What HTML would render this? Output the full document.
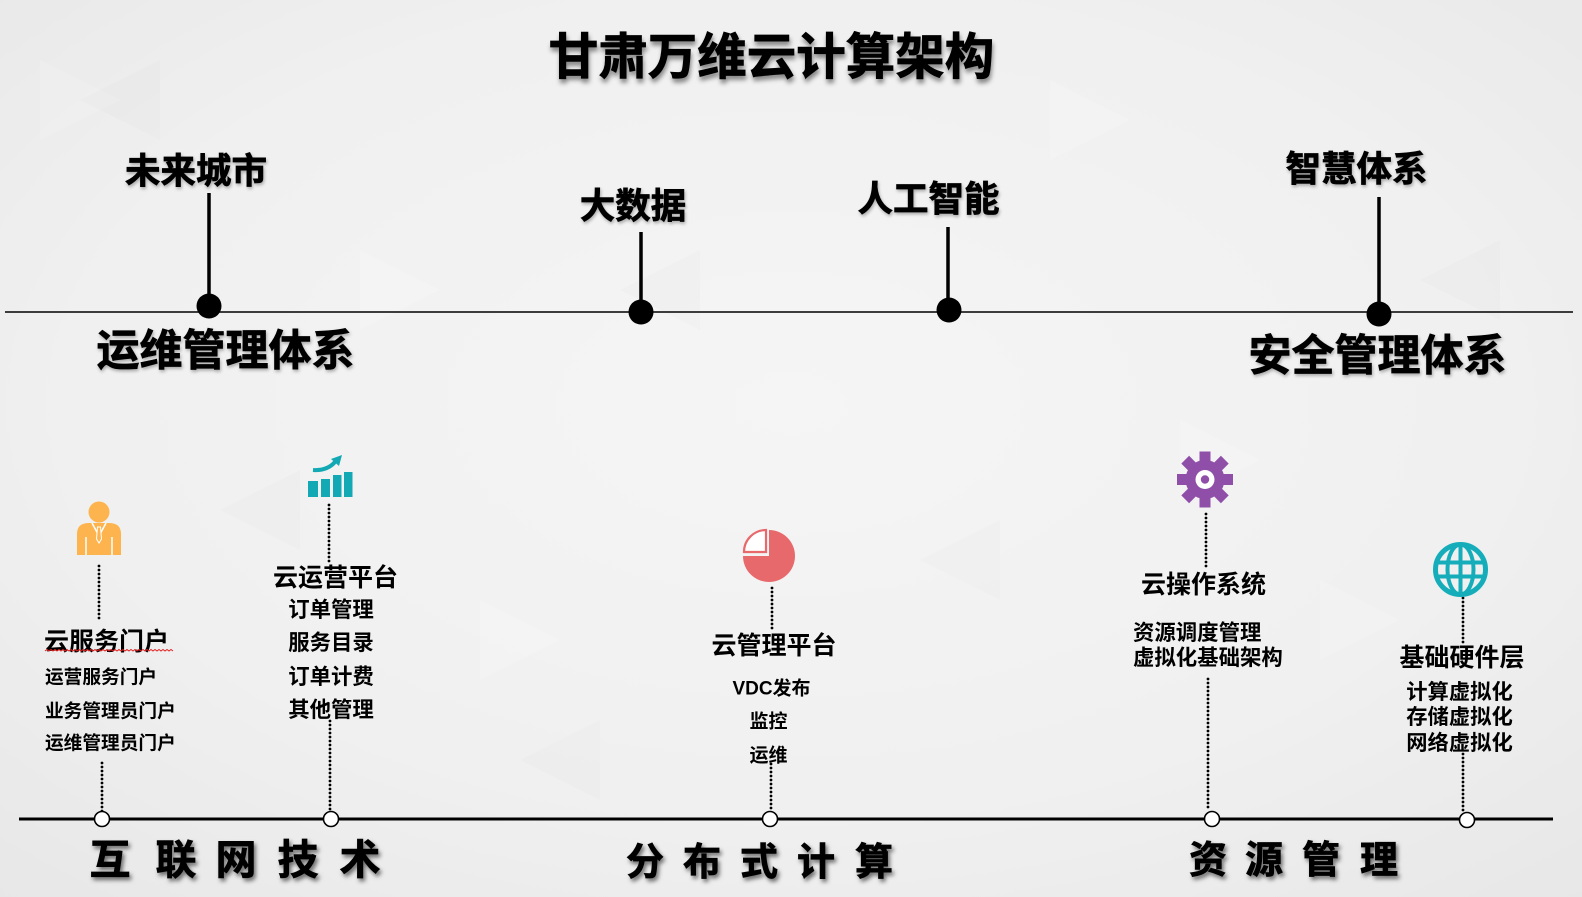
<!DOCTYPE html>
<html>
<head>
<meta charset="utf-8">
<style>
  html,body{margin:0;padding:0;}
  body{width:1582px;height:897px;overflow:hidden;background:#efefef;}
  svg{display:block;}
  text{font-family:"Liberation Sans","Noto Sans CJK SC",sans-serif;font-weight:700;fill:#000;dominant-baseline:central;}
  .m{text-anchor:middle;}
  .s{text-anchor:start;}
  .heavy{stroke:#000;stroke-width:0.7px;}
</style>
</head>
<body>
<svg width="1582" height="897" viewBox="0 0 1582 897" xmlns="http://www.w3.org/2000/svg">
  <defs>
    <radialGradient id="bg" cx="50%" cy="45%" r="75%">
      <stop offset="0" stop-color="#f5f5f5"/>
      <stop offset="0.6" stop-color="#f0f0f0"/>
      <stop offset="1" stop-color="#e7e7e7"/>
    </radialGradient>
    <filter id="tshadow" x="-10%" y="-30%" width="120%" height="170%">
      <feDropShadow dx="1" dy="4" stdDeviation="2.5" flood-color="#000" flood-opacity="0.45"/>
    </filter>
    <filter id="bshadow" x="-20%" y="-30%" width="140%" height="170%">
      <feDropShadow dx="2" dy="3" stdDeviation="2" flood-color="#000" flood-opacity="0.55"/>
    </filter>
    <filter id="lshadow" x="-10%" y="-30%" width="120%" height="170%">
      <feDropShadow dx="1" dy="2" stdDeviation="1.5" flood-color="#000" flood-opacity="0.3"/>
    </filter>
  </defs>

  <!-- background -->
  <rect x="0" y="0" width="1582" height="897" fill="url(#bg)"/>
  <g fill="#ffffff" opacity="0.15">
    <polygon points="40,60 120,100 40,140"/>
    <polygon points="360,250 440,290 360,330"/>
    <polygon points="1050,80 1130,120 1050,160"/>
    <polygon points="1180,420 1260,460 1180,500"/>
    <polygon points="480,600 560,640 480,680"/>
    <polygon points="1320,580 1400,620 1320,660"/>
  </g>
  <g fill="#000" opacity="0.01">
    <polygon points="160,60 80,100 160,140"/>
    <polygon points="700,250 620,290 700,330"/>
    <polygon points="1500,240 1420,280 1500,320"/>
    <polygon points="300,470 220,510 300,550"/>
    <polygon points="1000,520 920,560 1000,600"/>
    <polygon points="600,720 520,760 600,800"/>
  </g>

  <!-- Title -->
  <text class="m" x="771.5" y="57.5" font-size="49.5" filter="url(#tshadow)" style="stroke:#000;stroke-width:0.8px">甘肃万维云计算架构</text>

  <!-- Top timeline -->
  <line x1="5" y1="312" x2="1573" y2="312" stroke="#000" stroke-width="1.5"/>
  <line x1="209" y1="193" x2="209" y2="306" stroke="#000" stroke-width="3.5"/>
  <line x1="641" y1="232" x2="641" y2="312" stroke="#000" stroke-width="3.5"/>
  <line x1="948" y1="227" x2="948" y2="310" stroke="#000" stroke-width="3.5"/>
  <line x1="1379" y1="197" x2="1379" y2="314" stroke="#000" stroke-width="3.5"/>
  <circle cx="209" cy="306" r="12.5" fill="#000"/>
  <circle cx="641" cy="312" r="12.5" fill="#000"/>
  <circle cx="949" cy="310" r="12.5" fill="#000"/>
  <circle cx="1379" cy="314" r="12.5" fill="#000"/>

  <g filter="url(#lshadow)">
    <text class="m heavy" x="196" y="171" font-size="35.5">未来城市</text>
    <text class="m heavy" x="633" y="206" font-size="35.5">大数据</text>
    <text class="m heavy" x="928.5" y="199" font-size="35.5">人工智能</text>
    <text class="m heavy" x="1356.5" y="169" font-size="35.5">智慧体系</text>
    <text class="m heavy" x="225.5" y="351.5" font-size="43">运维管理体系</text>
    <text class="m heavy" x="1377.5" y="356.5" font-size="43">安全管理体系</text>
  </g>

  <!-- Bottom timeline -->
  <line x1="19" y1="819" x2="1553" y2="819" stroke="#000" stroke-width="3"/>

  <!-- dotted connectors -->
  <g stroke="#000" stroke-width="2.8" stroke-dasharray="0 4" stroke-linecap="round">
    <line x1="99" y1="566" x2="99" y2="622"/>
    <line x1="102" y1="763" x2="102" y2="812"/>
    <line x1="329" y1="505" x2="329" y2="562"/>
    <line x1="330" y1="721" x2="330" y2="812"/>
    <line x1="772" y1="588" x2="772" y2="630"/>
    <line x1="771" y1="764" x2="771" y2="812"/>
    <line x1="1206" y1="514" x2="1206" y2="570"/>
    <line x1="1208" y1="679" x2="1208" y2="811"/>
    <line x1="1463" y1="598" x2="1463" y2="643"/>
    <line x1="1463" y1="754" x2="1463" y2="812"/>
  </g>

  <!-- white circles on bottom line -->
  <g fill="#fff" stroke="#000" stroke-width="1.6">
    <circle cx="102" cy="819" r="7.5"/>
    <circle cx="331" cy="819" r="7.5"/>
    <circle cx="770" cy="819" r="7.5"/>
    <circle cx="1212" cy="819" r="7.5"/>
    <circle cx="1467" cy="820" r="7.5"/>
  </g>

  <!-- Person icon -->
  <g>
    <circle cx="99" cy="512" r="10.5" fill="#FDB44E"/>
    <path d="M77,555 L77,534 Q77,523 89,523 L109,523 Q121,523 121,534 L121,555 Z" fill="#FDB44E"/>
    <line x1="86" y1="537" x2="86" y2="555" stroke="#fff" stroke-width="1.5"/>
    <line x1="112" y1="537" x2="112" y2="555" stroke="#fff" stroke-width="1.5"/>
    <polyline points="92,523 99,536 106,523" fill="none" stroke="#fff" stroke-width="1.5"/>
    <polygon points="97.5,527 100.5,527 101.5,539 99,543 96.5,539" fill="#FDB44E" stroke="#fff" stroke-width="1"/>
  </g>

  <!-- Chart icon -->
  <g fill="#12A9B5">
    <rect x="308" y="481" width="10" height="16"/>
    <rect x="321" y="479" width="9" height="18"/>
    <rect x="333" y="475" width="8.5" height="22"/>
    <rect x="344" y="472" width="8.5" height="25"/>
    <path d="M313,470 Q327,471 335,462" fill="none" stroke="#12A9B5" stroke-width="4"/>
    <polygon points="331,459 342,455 339,466"/>
  </g>

  <!-- Pie icon -->
  <g>
    <path d="M769,556 L769,530 A26,26 0 1,1 743,556 Z" fill="#E8696C"/>
    <path d="M766,552 L744,552 A22,22 0 0,1 766,530 Z" fill="#fff" stroke="#E8696C" stroke-width="2.2"/>
  </g>

  <!-- Gear icon -->
  <g transform="translate(1205,479.5)" fill="#8F4FA8">
    <circle r="19.5"/>
    <rect x="-5.5" y="-28" width="11" height="14" transform="rotate(0)"/>
    <rect x="-5.5" y="-28" width="11" height="14" transform="rotate(45)"/>
    <rect x="-5.5" y="-28" width="11" height="14" transform="rotate(90)"/>
    <rect x="-5.5" y="-28" width="11" height="14" transform="rotate(135)"/>
    <rect x="-5.5" y="-28" width="11" height="14" transform="rotate(180)"/>
    <rect x="-5.5" y="-28" width="11" height="14" transform="rotate(225)"/>
    <rect x="-5.5" y="-28" width="11" height="14" transform="rotate(270)"/>
    <rect x="-5.5" y="-28" width="11" height="14" transform="rotate(315)"/>
    <circle r="9.5" fill="#fff"/>
    <circle r="4.2" fill="#8F4FA8"/>
  </g>

  <!-- Globe icon -->
  <g transform="translate(1460.5,569.5)" fill="none" stroke="#16ADBB">
    <circle r="25" stroke-width="5"/>
    <ellipse rx="13" ry="25" stroke-width="4"/>
    <line x1="0" y1="-25" x2="0" y2="25" stroke-width="4"/>
    <line x1="-24" y1="-7" x2="24" y2="-7" stroke-width="4"/>
    <line x1="-24" y1="7" x2="24" y2="7" stroke-width="4"/>
  </g>

  <!-- Section texts -->
  <text class="s" x="44" y="642" font-size="25">云服务门户</text>
  <path d="M45,651 l2,-1.5 l2,1.5 l2,-1.5 l2,1.5 l2,-1.5 l2,1.5 l2,-1.5 l2,1.5 l2,-1.5 l2,1.5 l2,-1.5 l2,1.5 l2,-1.5 l2,1.5 l2,-1.5 l2,1.5 l2,-1.5 l2,1.5 l2,-1.5 l2,1.5 l2,-1.5 l2,1.5 l2,-1.5 l2,1.5 l2,-1.5 l2,1.5 l2,-1.5 l2,1.5 l2,-1.5 l2,1.5 l2,-1.5 l2,1.5 l2,-1.5 l2,1.5 l2,-1.5 l2,1.5 l2,-1.5 l2,1.5 l2,-1.5 l2,1.5 l2,-1.5 l2,1.5 l2,-1.5 l2,1.5 l2,-1.5 l2,1.5 l2,-1.5 l2,1.5 l2,-1.5 l2,1.5 l2,-1.5 l2,1.5 l2,-1.5 l2,1.5 l2,-1.5 l2,1.5 l2,-1.5 l2,1.5 l2,-1.5 l2,1.5 l2,-1.5 l2,1.5 l2,-1.5 l2,1.5" fill="none" stroke="#e02020" stroke-width="1"/>
  <text class="s" x="45" y="677" font-size="18.7">运营服务门户</text>
  <text class="s" x="45" y="711" font-size="18.7">业务管理员门户</text>
  <text class="s" x="45" y="743" font-size="18.7">运维管理员门户</text>

  <text class="m" x="335.5" y="578" font-size="25">云运营平台</text>
  <text class="m" x="331" y="610" font-size="21.4">订单管理</text>
  <text class="m" x="331" y="643" font-size="21.4">服务目录</text>
  <text class="m" x="331" y="677" font-size="21.4">订单计费</text>
  <text class="m" x="331" y="710" font-size="21.4">其他管理</text>

  <text class="m" x="774" y="646" font-size="25">云管理平台</text>
  <text class="m" x="771.5" y="689" font-size="19">VDC发布</text>
  <text class="m" x="768.5" y="722" font-size="19">监控</text>
  <text class="m" x="768.5" y="756" font-size="19">运维</text>

  <text class="m" x="1203.5" y="585" font-size="25">云操作系统</text>
  <text class="s" x="1133" y="633" font-size="21.4">资源调度管理</text>
  <text class="s" x="1133" y="658" font-size="21.4">虚拟化基础架构</text>

  <text class="m" x="1462" y="658" font-size="25">基础硬件层</text>
  <text class="m" x="1459.5" y="692" font-size="21.3">计算虚拟化</text>
  <text class="m" x="1459.5" y="717" font-size="21.3">存储虚拟化</text>
  <text class="m" x="1459.5" y="743" font-size="21.3">网络虚拟化</text>

  <!-- Bottom headings -->
  <g filter="url(#bshadow)">
    <text class="m heavy" x="110" y="860" font-size="41">互</text>
    <text class="m heavy" x="176" y="860" font-size="41">联</text>
    <text class="m heavy" x="236" y="860" font-size="41">网</text>
    <text class="m heavy" x="298" y="860" font-size="41">技</text>
    <text class="m heavy" x="360" y="860" font-size="41">术</text>

    <text class="m heavy" x="645" y="863" font-size="38">分</text>
    <text class="m heavy" x="702" y="863" font-size="38">布</text>
    <text class="m heavy" x="759" y="863" font-size="38">式</text>
    <text class="m heavy" x="816" y="863" font-size="38">计</text>
    <text class="m heavy" x="874" y="863" font-size="38">算</text>

    <text class="m heavy" x="1208" y="861" font-size="38">资</text>
    <text class="m heavy" x="1264" y="861" font-size="38">源</text>
    <text class="m heavy" x="1321" y="861" font-size="38">管</text>
    <text class="m heavy" x="1379" y="861" font-size="38">理</text>
  </g>
</svg>
</body>
</html>
